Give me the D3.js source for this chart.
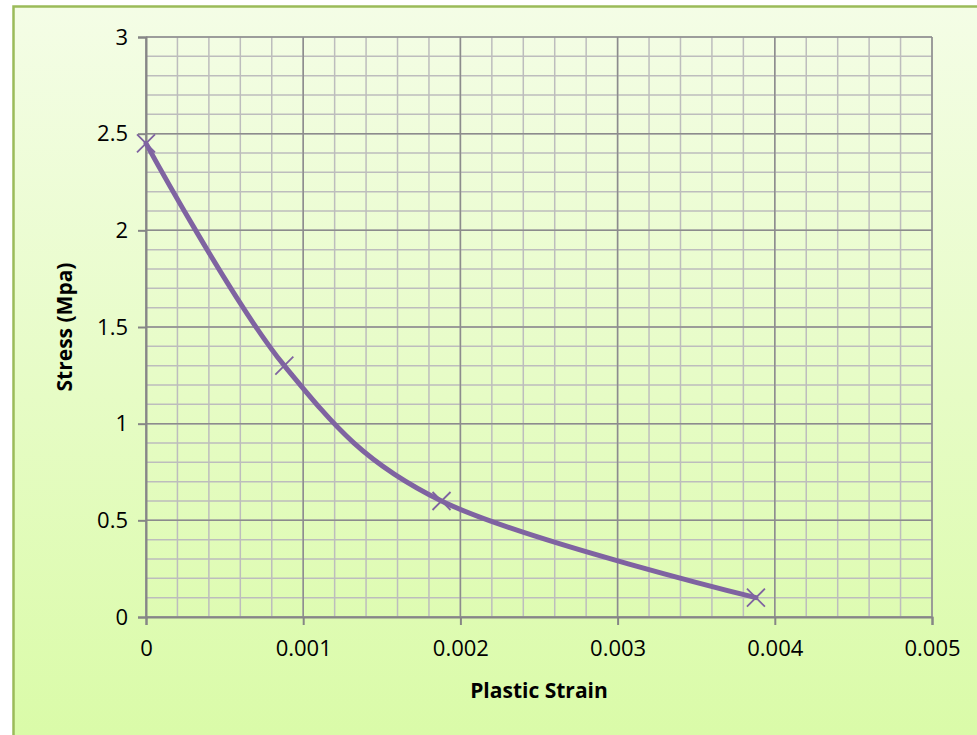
<!DOCTYPE html>
<html>
<head>
<meta charset="utf-8">
<script src="https://cdn.jsdelivr.net/npm/d3@7"></script>
<style>
  body { margin: 0; background: #fff; }
  text { font-family: "Open Sans", "Noto Sans", sans-serif; }
</style>
</head>
<body>
<div id="chart"></div>
<script>
// data
var strain = [0, 0.00088, 0.00188, 0.00388];
var stress = [2.45, 1.3, 0.6, 0.1];
var xTicks = [0, 0.001, 0.002, 0.003, 0.004, 0.005];
var yTicks = [0, 0.5, 1, 1.5, 2, 2.5, 3];

var W = 977, H = 735;
var margin = {top: 37, right: 45, bottom: 118, left: 146};
var width = W - margin.left - margin.right;
var height = H - margin.top - margin.bottom;

var svg = d3.select("#chart")
  .append("svg")
    .attr("width", W)
    .attr("height", H);

var defs = svg.append("defs");
var grad = defs.append("linearGradient")
    .attr("id", "bg")
    .attr("x1", 0).attr("y1", 0)
    .attr("x2", 0).attr("y2", 1);
grad.append("stop").attr("offset", "0%").attr("stop-color", "#f4fde6");
grad.append("stop").attr("offset", "100%").attr("stop-color", "#d9fba6");

// chart background + border (runs past the right/bottom edge)
svg.append("rect")
  .attr("x", 13.5).attr("y", 6.5)
  .attr("width", W + 20).attr("height", H + 20)
  .attr("fill", "url(#bg)")
  .attr("stroke", "#9bbb59")
  .attr("stroke-width", 2.5);

var g = svg.append("g")
  .attr("transform", "translate(" + margin.left + "," + margin.top + ")");

var x = d3.scaleLinear().domain([0, 0.005]).range([0, width]);
var y = d3.scaleLinear().domain([0, 3]).range([height, 0]);

// minor grid
var xMinor = d3.range(0, 26).map(function(i) { return i * 0.0002; });
var yMinor = d3.range(0, 31).map(function(i) { return i * 0.1; });

g.append("g").selectAll("line")
  .data(xMinor)
  .enter().append("line")
    .attr("x1", function(d) { return x(d); })
    .attr("x2", function(d) { return x(d); })
    .attr("y1", 0).attr("y2", height)
    .attr("stroke", "#bdbdbd").attr("stroke-width", 1.5);

g.append("g").selectAll("line")
  .data(yMinor)
  .enter().append("line")
    .attr("y1", function(d) { return y(d); })
    .attr("y2", function(d) { return y(d); })
    .attr("x1", 0).attr("x2", width)
    .attr("stroke", "#bdbdbd").attr("stroke-width", 1.5);

// major grid
g.append("g").selectAll("line")
  .data(xTicks)
  .enter().append("line")
    .attr("x1", function(d) { return x(d); })
    .attr("x2", function(d) { return x(d); })
    .attr("y1", 0).attr("y2", height)
    .attr("stroke", "#8c8c8c").attr("stroke-width", 1.5);

g.append("g").selectAll("line")
  .data(yTicks)
  .enter().append("line")
    .attr("y1", function(d) { return y(d); })
    .attr("y2", function(d) { return y(d); })
    .attr("x1", 0).attr("x2", width)
    .attr("stroke", "#8c8c8c").attr("stroke-width", 1.5);

// axes
var xAxis = g.append("g")
  .attr("transform", "translate(0," + height + ")")
  .call(d3.axisBottom(x).tickValues(xTicks).tickFormat(d3.format("")).tickSize(8).tickPadding(15));
var yAxis = g.append("g")
  .call(d3.axisLeft(y).tickValues(yTicks).tickFormat(d3.format("")).tickSize(8).tickPadding(10));

[xAxis, yAxis].forEach(function(a) {
  a.select(".domain").attr("stroke", "#868686").attr("stroke-width", 2);
  a.selectAll(".tick line").attr("stroke", "#868686").attr("stroke-width", 2);
  a.selectAll(".tick text")
    .attr("fill", "#000")
    .style("font-size", "22px")
    .style("font-family", "'Open Sans', 'Noto Sans', sans-serif");
});

// axis titles
svg.append("text")
  .attr("x", margin.left + width / 2)
  .attr("y", 698)
  .attr("text-anchor", "middle")
  .style("font-size", "21px")
  .style("font-weight", "bold")
  .text("Plastic Strain");

svg.append("text")
  .attr("transform", "translate(72," + (margin.top + height / 2) + ") rotate(-90)")
  .attr("text-anchor", "middle")
  .style("font-size", "21px")
  .style("font-weight", "bold")
  .text("Stress (Mpa)");

// smoothed line
var pts = strain.map(function(d, i) { return [d, stress[i]]; });
var line = d3.line()
  .x(function(d) { return x(d[0]); })
  .y(function(d) { return y(d[1]); })
  .curve(d3.curveCatmullRom.alpha(0));

g.append("path")
  .datum(pts)
  .attr("d", line)
  .attr("fill", "none")
  .attr("stroke", "#7f63a1")
  .attr("stroke-width", 5)
  .attr("stroke-linecap", "round");

// x markers
var s = 9;
g.append("g").selectAll("path")
  .data(pts)
  .enter().append("path")
    .attr("d", function(d) {
      var cx = x(d[0]), cy = y(d[1]);
      return "M" + (cx - s) + "," + (cy - s) + "L" + (cx + s) + "," + (cy + s) +
             "M" + (cx - s) + "," + (cy + s) + "L" + (cx + s) + "," + (cy - s);
    })
    .attr("stroke", "#7f63a1")
    .attr("stroke-width", 1.8)
    .attr("fill", "none");
</script>
</body>
</html>
